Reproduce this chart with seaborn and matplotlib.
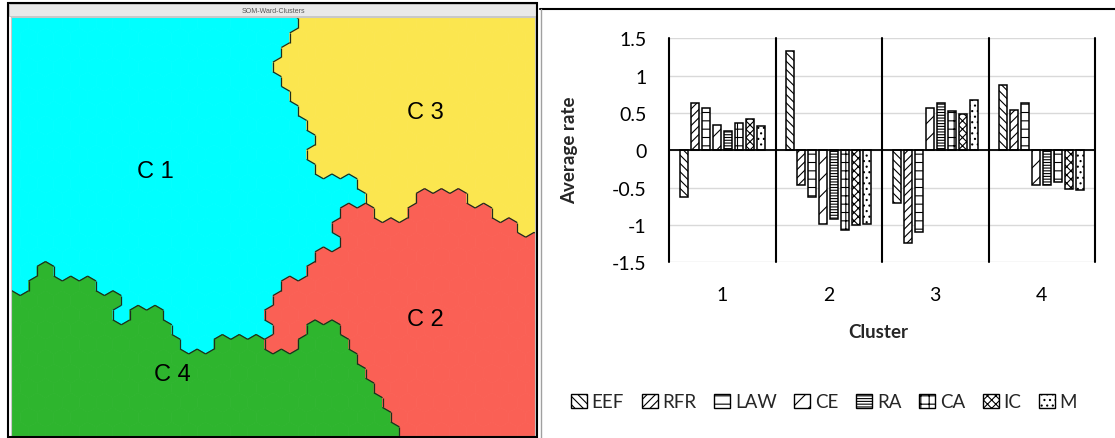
import numpy as np
import pandas as pd
import seaborn as sns
import matplotlib.pyplot as plt
from matplotlib.collections import PolyCollection, LineCollection
from matplotlib.patches import Patch, Rectangle

W, H = 1115, 439

# ---- bar chart data ----
clusters = ['1', '2', '3', '4']
variables = ['EEF', 'RFR', 'LAW', 'CE', 'RA', 'CA', 'IC', 'M']
c1_vals = [-0.63, 0.63, 0.56, 0.34, 0.26, 0.37, 0.42, 0.32]
c2_vals = [1.33, -0.46, -0.62, -0.99, -0.92, -1.07, -1.00, -0.99]
c3_vals = [-0.71, -1.24, -1.10, 0.56, 0.64, 0.53, 0.48, 0.67]
c4_vals = [0.87, 0.54, 0.64, -0.46, -0.46, -0.42, -0.52, -0.53]
yticks = [-1.5, -1, -0.5, 0, 0.5, 1, 1.5]
ytick_labels = ['-1.5', '-1', '-0.5', '0', '0.5', '1', '1.5']
hatches = ['\\\\\\\\', '////', '--', '//', '------', '++', 'xxxx', '...']

# ---- SOM map: one string per hex row, one char per cell (cluster id) ----
som_rows = [
    "11111111111111111333333333333333",
    "11111111111111111333333333333333",
    "11111111111111111333333333333333",
    "11111111111111113333333333333333",
    "11111111111111113333333333333333",
    "11111111111111113333333333333333",
    "11111111111111111333333333333333",
    "11111111111111111333333333333333",
    "11111111111111111133333333333333",
    "11111111111111111133333333333333",
    "11111111111111111133333333333333",
    "11111111111111111133333333333333",
    "11111111111111111111133333333333",
    "11111111111111111111133322233333",
    "11111111111111111111223322222333",
    "11111111111111111112222222222233",
    "11111111111111111111222222222222",
    "11111111111111111122222222222222",
    "11411111111111111122222222222222",
    "14444111111111112222222222222222",
    "44444441111111112222222222222222",
    "44444414411111122222222222222222",
    "44444444441111112244222222222222",
    "44444444441144422444222222222222",
    "44444444444444444444422222222222",
    "44444444444444444444422222222222",
    "44444444444444444444442222222222",
    "44444444444444444444442222222222",
    "44444444444444444444444222222222",
    "44444444444444444444444222222222",
]
region_colors = {'1': '#00ffff', '2': '#fa6055', '3': '#fbe64f', '4': '#2eb52e'}
region_labels = {'1': 'C 1', '2': 'C 2', '3': 'C 3', '4': 'C 4'}

sns.set_theme(style='white')
plt.rcParams['font.family'] = ['Lato', 'DejaVu Sans']
plt.rcParams['hatch.linewidth'] = 0.8

fig = plt.figure(figsize=(W / 100, H / 100), dpi=100)


def rect(x0, y0, x1, y1):
    return [x0 / W, 1 - y1 / H, (x1 - x0) / W, (y1 - y0) / H]


# ================= left: SOM hex map =================
mx0, my0, mx1, my1 = 11.4, 18, 535, 437
axm = fig.add_axes(rect(mx0, my0, mx1, my1))
hw = 16.85
R = hw / np.sqrt(3)
hh = 1.5 * R
xs0, ys0 = 11.8, 9.6
offs = np.array([(0, -R), (hw / 2, -R / 2), (hw / 2, R / 2),
                 (0, R), (-hw / 2, R / 2), (-hw / 2, -R / 2)])


def center(r, c):
    return np.array([xs0 + hw * c + (hw / 2 if r % 2 else 0), ys0 + hh * r])


polys, cols, edges = [], [], []
nrow, ncol = len(som_rows), len(som_rows[0])
for r, row in enumerate(som_rows):
    for c, k in enumerate(row):
        p = center(r, c)
        polys.append(p + offs)
        cols.append(region_colors[k])
        nbrs = [(r, c + 1)]
        if r + 1 < nrow:
            nbrs += [(r + 1, c - 1), (r + 1, c)] if r % 2 == 0 else [(r + 1, c), (r + 1, c + 1)]
        for rr, cc in nbrs:
            if 0 <= cc < ncol and som_rows[rr][cc] != k:
                q = center(rr, cc)
                d = (q - p) / np.linalg.norm(q - p)
                perp = np.array([-d[1], d[0]])
                m = (p + q) / 2
                edges.append([m - perp * R / 2, m + perp * R / 2])

axm.add_collection(PolyCollection(polys, facecolors=cols, edgecolors=cols, linewidths=0.6))
axm.add_collection(LineCollection(edges, colors='#1d2e1d', linewidths=0.9))
axm.set_xlim(mx0, mx1)
axm.set_ylim(my1, my0)
axm.set_xticks([])
axm.set_yticks([])
for s in axm.spines.values():
    s.set_color('#c8c8c8')
    s.set_linewidth(0.8)

label_pos = {'1': (155, 172), '3': (425, 113), '2': (425, 320), '4': (172, 375)}
for k, (x, y) in label_pos.items():
    axm.text(x, y, region_labels[k], ha='center', va='center', fontsize=17,
             family=['Liberation Sans', 'DejaVu Sans'], color='black')

fig.patches.append(Rectangle((9 / W, 1 - 17 / H), 527 / W, 12 / H, transform=fig.transFigure,
                             facecolor='#e9e9e9', edgecolor='#c0c0c0', lw=0.6))
fig.text(273 / W, 1 - 11.5 / H, 'SOM-Ward-Clusters', ha='center', va='center', fontsize=5,
         color='#555555', family=['Liberation Sans', 'DejaVu Sans'])
fig.patches.append(Rectangle((8 / W, 1 - 438 / H), 529 / W, 434 / H, transform=fig.transFigure,
                             facecolor='none', edgecolor='black', lw=1.5))

# ================= right: bar chart =================
fig.lines.append(plt.Line2D([540 / W, 1], [1 - 10 / H] * 2, transform=fig.transFigure,
                            color='black', lw=1.5))
fig.lines.append(plt.Line2D([541 / W] * 2, [0, 1 - 10 / H], transform=fig.transFigure,
                            color='#a0a0a0', lw=1))

df = pd.DataFrame({
    'Cluster': np.repeat(clusters, len(variables)),
    'Variable': variables * len(clusters),
    'Average rate': c1_vals + c2_vals + c3_vals + c4_vals,
})

ax = fig.add_axes(rect(669, 39.3, 1095, 263.3))
sns.barplot(data=df, x='Cluster', y='Average rate', hue='Variable', hue_order=variables,
            palette={v: 'white' for v in variables}, edgecolor='black', linewidth=1.1,
            width=0.826, gap=0.27, errorbar=None, legend=False, ax=ax)
for cont, hatch in zip(ax.containers, hatches):
    for bar in cont:
        bar.set_hatch(hatch)

ax.set_xlim(-0.5, 3.5)
ax.set_ylim(-1.5, 1.5)
ax.set_yticks(yticks)
ax.set_yticklabels(ytick_labels)
ax.yaxis.grid(True, color='#d9d9d9', lw=1)
ax.set_axisbelow(True)
for s in ax.spines.values():
    s.set_visible(False)
ax.axhline(0, color='black', lw=1.3, zorder=3)
for xv in [-0.5, 0.5, 1.5, 2.5, 3.5]:
    ax.axvline(xv, color='black', lw=1.5, zorder=3, clip_on=False)
ax.tick_params(axis='both', length=0, labelsize=14, colors='black')
ax.tick_params(axis='x', pad=17)
ax.tick_params(axis='y', pad=16)
ax.set_xlabel('')
ax.set_ylabel('')
fig.text(878 / W, 1 - 332 / H, 'Cluster', ha='center', va='center', fontsize=13.5, fontweight='bold')
fig.text(570 / W, 1 - 150 / H, 'Average rate', ha='center', va='center', fontsize=13.5,
         fontweight='bold', rotation=90)

handles = [Patch(facecolor='white', edgecolor='black', hatch=h, lw=1) for h in hatches]
fig.legend(handles, variables, loc='center', bbox_to_anchor=(824 / W, 1 - 403 / H), ncol=8,
           frameon=False, fontsize=13.5, handlelength=0.85, handleheight=0.85,
           handletextpad=0.25, columnspacing=0.95, borderaxespad=0)

fig.savefig('out.png', dpi=100)
